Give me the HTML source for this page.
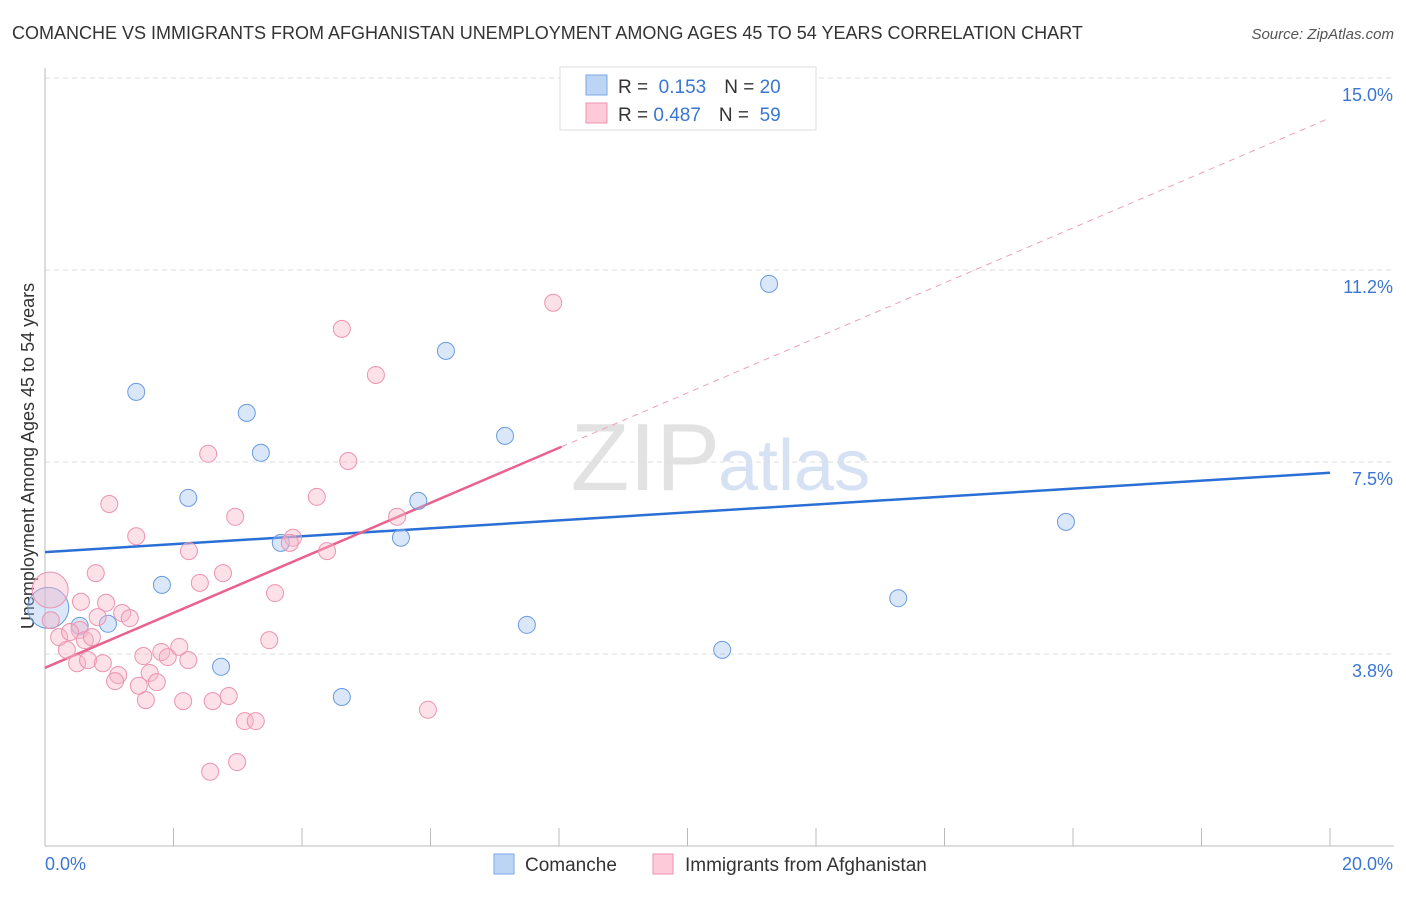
<!DOCTYPE html>
<html><head><meta charset="utf-8"><style>
body{margin:0;background:#fff;font-family:"Liberation Sans",sans-serif}
svg text{font-family:"Liberation Sans",sans-serif}
</style></head><body>
<svg id="c" width="1406" height="892">
<text x="12" y="39" font-size="18" fill="#333">COMANCHE VS IMMIGRANTS FROM AFGHANISTAN UNEMPLOYMENT AMONG AGES 45 TO 54 YEARS CORRELATION CHART</text>
<text x="1394" y="39" font-size="15" fill="#555" font-style="italic" text-anchor="end">Source: ZipAtlas.com</text>
<text x="720" y="490" font-size="96" fill="#e2e2e2" text-anchor="end" font-family="Liberation Serif">ZIP</text>
<text x="718" y="490" font-size="72" fill="#d6e2f4">atlas</text>
<text transform="translate(34,456) rotate(-90)" font-size="18" fill="#333" text-anchor="middle">Unemployment Among Ages 45 to 54 years</text>
<g id="grid"></g><g id="lines"></g><g id="pts"></g>
<g>
<rect x="560" y="67" width="256" height="63" fill="#fff" stroke="#ddd"/>
<rect x="586" y="75" width="21" height="20" fill="#bcd5f5" stroke="#7aa7e6"/>
<rect x="586" y="103" width="21" height="20" fill="#fccad8" stroke="#ee93b0"/>
<text x="618" y="93" font-size="19" fill="#333">R = <tspan fill="#3a76d3">&#160;0.153</tspan><tspan dx="18">N = </tspan><tspan fill="#3a76d3">20</tspan></text>
<text x="618" y="121" font-size="19" fill="#333">R = <tspan fill="#3a76d3">0.487</tspan><tspan dx="18">N = </tspan><tspan fill="#3a76d3">&#160;59</tspan></text>
</g>
<g>
<rect x="494" y="854" width="20" height="20" fill="#bcd5f5" stroke="#7aa7e6"/>
<text x="525" y="871" font-size="19" fill="#333">Comanche</text>
<rect x="653" y="854" width="20" height="20" fill="#fccad8" stroke="#ee93b0"/>
<text x="685" y="871" font-size="19" fill="#333">Immigrants from Afghanistan</text>
</g>
</svg>
<script>
const xTicks=[0,2,4,6,8,10,12,14,16,18,20];
const yTicks=[3.75,7.5,11.25,15];
const yTickLabels=["3.8%","7.5%","11.2%","15.0%"];
const blueX=[1.42,0.98,0.54,1.82,2.23,3.14,3.36,2.74,3.67,4.62,5.54,5.81,6.24,7.16,7.50,10.54,11.27,13.28,15.89,0.05];
const blueY=[8.87,4.34,4.30,5.10,6.80,8.46,7.68,3.50,5.92,2.91,6.02,6.74,9.67,8.01,4.32,3.83,10.98,4.84,6.33,4.65];
const blueR=[8,8,8,8,8,8,8,8,8,8,8,8,8,8,8,8,8,8,8,20];
const pinkX=[4.62,7.91,5.15,2.54,4.72,5.48,5.96,1.00,2.96,4.23,1.42,2.24,3.86,3.81,4.39,0.79,2.77,2.41,3.58,0.08,0.56,0.95,0.82,1.20,1.32,0.09,0.54,0.22,0.39,0.62,0.73,0.34,0.50,0.67,0.90,3.49,1.53,1.81,1.91,2.09,2.23,1.14,1.09,1.63,1.74,1.46,1.57,2.15,2.61,2.86,3.11,3.28,2.99,2.57];
const pinkY=[10.10,10.61,9.20,7.66,7.52,6.43,2.66,6.68,6.43,6.82,6.05,5.76,6.02,5.92,5.76,5.33,5.33,5.14,4.94,5.00,4.77,4.75,4.47,4.55,4.45,4.41,4.22,4.08,4.18,4.02,4.08,3.83,3.57,3.63,3.57,4.02,3.71,3.79,3.69,3.89,3.63,3.34,3.22,3.38,3.20,3.13,2.85,2.83,2.83,2.93,2.44,2.44,1.64,1.45];
const blueFit=[5.74,0.0775];
const pinkFit=[3.48,0.537];
const pinkSolidEnd=8.04;
const X=v=>45+v*64.25, Y=v=>846-v*51.2;
const NS="http://www.w3.org/2000/svg";
function mk(tag,attrs,parent){const e=document.createElementNS(NS,tag);for(const k in attrs)e.setAttribute(k,attrs[k]);parent.appendChild(e);return e;}
const grid=document.getElementById('grid'),lines=document.getElementById('lines'),pts=document.getElementById('pts'),svg=document.getElementById('c');
yTicks.forEach((t,i)=>{
 const l=mk('line',{x1:45,x2:1394,y1:Y(t),y2:Y(t),stroke:'#ddd','stroke-dasharray':'5,4'},grid);
 
 
 const tx=mk('text',{x:1393,y:Y(t)+23,'font-size':18,fill:'#3a76d3','text-anchor':'end'},grid);
 tx.textContent=yTickLabels[i];
 
 
});
const ax=mk('line',{x1:45,x2:1394,y1:846,y2:846,stroke:'#bbb'},grid);


const ay=mk('line',{x1:45,x2:45,y1:68,y2:846,stroke:'#bbb'},grid);


xTicks.forEach(t=>{
 const l=mk('line',{x1:X(t),x2:X(t),y1:828,y2:846,stroke:'#bbb'},grid);
 
 
});
const xl0=mk('text',{x:45,y:870,'font-size':18,fill:'#3a76d3'},grid);xl0.textContent='0.0%';


const xl1=mk('text',{x:1393,y:870,'font-size':18,fill:'#3a76d3','text-anchor':'end'},grid);xl1.textContent='20.0%';


blueX.forEach((x,i)=>{
 const c=mk('circle',{cx:X(x),cy:Y(blueY[i]),r:blueR[i]+0.5,fill:'rgba(160,195,240,0.4)',stroke:'#6a9be0','stroke-width':1},pts);
 
 
});
pinkX.forEach((x,i)=>{
 const r=i===19?18:8.5;
 const c=mk('circle',{cx:X(x),cy:Y(pinkY[i]),r:r,fill:'rgba(248,180,200,0.4)',stroke:'#ec93b0','stroke-width':1},pts);
 
 
});
const bl=mk('line',{x1:X(0),y1:Y(blueFit[0]),x2:X(20),y2:Y(blueFit[0]+20*blueFit[1]),stroke:'#2a6fd6','stroke-width':2.5},lines);


const pl=mk('line',{x1:X(0),y1:Y(pinkFit[0]),x2:X(pinkSolidEnd),y2:Y(pinkFit[0]+pinkSolidEnd*pinkFit[1]),stroke:'#e9628d','stroke-width':2.5},lines);


const pd=mk('line',{x1:X(pinkSolidEnd),y1:Y(pinkFit[0]+pinkSolidEnd*pinkFit[1]),x2:X(20),y2:Y(pinkFit[0]+20*pinkFit[1]),stroke:'#eea0b8','stroke-width':1,'stroke-dasharray':'6,5'},lines);


</script>
</body></html>
